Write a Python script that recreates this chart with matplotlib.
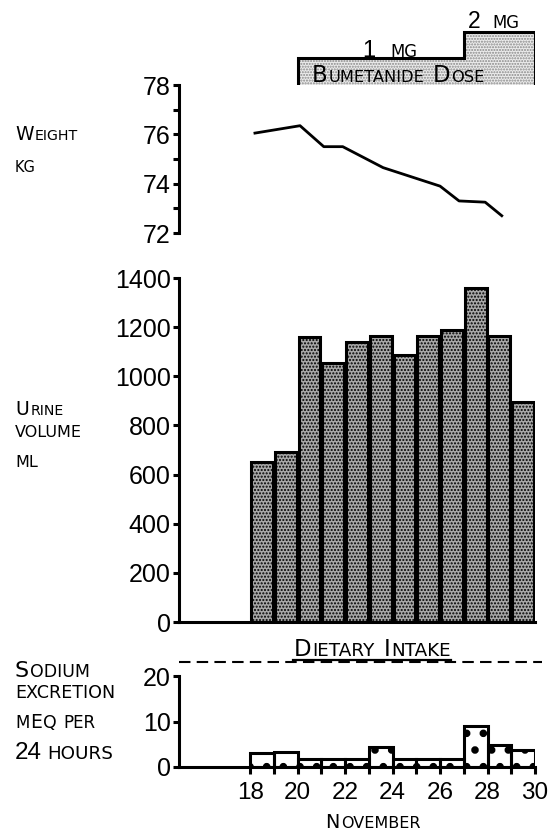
import matplotlib
matplotlib.use("Agg")
import matplotlib.pyplot as plt

# --- data ---
dose_edges = [20, 27, 30]          # bumetanide dose periods (November day)
dose_mg = [1, 2]

weight_day = [18.2, 20.1, 21.1, 21.9, 23.6, 26.0, 26.8, 27.9, 28.6]
weight_kg = [76.05, 76.35, 75.5, 75.5, 74.65, 73.9, 73.3, 73.25, 72.7]

days = [18, 19, 20, 21, 22, 23, 24, 25, 26, 27, 28, 29]
urine_ml = [650, 690, 1160, 1055, 1140, 1165, 1085, 1165, 1190, 1360, 1165, 895]
sodium_meq = [3.0, 3.2, 1.8, 1.8, 1.8, 4.5, 1.8, 1.8, 1.8, 9.1, 4.9, 3.8]
dietary_intake = 23

weight_ticks = [72, 74, 76, 78]
urine_ticks = [0, 200, 400, 600, 800, 1000, 1200, 1400]
sodium_ticks = [0, 10, 20]
day_ticks = [18, 20, 22, 24, 26, 28, 30]

SANS = ["DejaVu Sans"]
DIGITS = ["Liberation Sans", "DejaVu Sans"]
plt.rcParams["font.family"] = SANS

W, H = 558, 836
fig = plt.figure(figsize=(W / 100, H / 100), dpi=100)
LW = 2.2


def rect(top, bottom):
    return [179 / W, 1 - bottom / H, 356 / W, (bottom - top) / H]


ax_d = fig.add_axes(rect(25, 85))
ax_w = fig.add_axes(rect(85, 233))
ax_u = fig.add_axes(rect(278, 622))
ax_n = fig.add_axes(rect(676, 767))

for ax in (ax_d, ax_w, ax_u, ax_n):
    ax.set_xlim(15, 30)
    ax.patch.set_visible(False)
    for s in ("top", "right"):
        ax.spines[s].set_visible(False)
    for s in ("left", "bottom"):
        ax.spines[s].set_linewidth(LW)
    ax.tick_params(which="both", direction="out", length=4.5, width=LW,
                   pad=1.5, labelsize=18, labelfontfamily=DIGITS)

# dose box
ax_d.set_ylim(0, 2.26)
ax_d.axis("off")
ax_d.stairs(dose_mg, dose_edges, baseline=0, fill=True, facecolor="#ececec",
            edgecolor="#888888", lw=0, hatch="......")
ax_d.stairs(dose_mg, dose_edges, baseline=0, fill=True, facecolor="none",
            edgecolor="k", lw=LW)

# weight
ax_w.plot(weight_day, weight_kg, color="k", lw=2.0)
ax_w.set_ylim(72, 78)
ax_w.set_yticks(weight_ticks)
ax_w.set_yticks([73, 75, 77], minor=True)
ax_w.spines["bottom"].set_visible(False)
ax_w.set_xticks([])

# urine volume
ax_u.bar([d + 0.04 for d in days], urine_ml, width=0.92, align="edge",
         facecolor="#a8a8a8", edgecolor="k", lw=0, hatch=".....")
ax_u.bar([d + 0.04 for d in days], urine_ml, width=0.92, align="edge",
         facecolor="none", edgecolor="k", lw=LW)
ax_u.set_ylim(0, 1400)
ax_u.set_yticks(urine_ticks)
ax_u.set_xticks([])

# sodium excretion
with plt.rc_context({"hatch.linewidth": 3.0}):
    ax_n.bar(days, sodium_meq, width=1.0, align="edge", facecolor="white",
             edgecolor="k", lw=0, hatch=".")
ax_n.bar(days, sodium_meq, width=1.0, align="edge", facecolor="none",
         edgecolor="k", lw=LW)
ax_n.set_ylim(0, 20)
ax_n.set_yticks(sodium_ticks)
ax_n.set_xticks(day_ticks)
ax_n.set_xticks([19, 21, 23, 25, 27, 29], minor=True)
ax_n.tick_params(axis="x", which="both", length=5, pad=6, labelsize=17.5)
ax_n.plot([15, 30.3], [dietary_intake, dietary_intake], color="k", lw=1.5,
          ls=(0, (5.5, 3)), clip_on=False)

# --- small-caps style labels ---
renderer = fig.canvas.get_renderer()


def caps(x, y, parts, ha="left"):
    arts, widths = [], []
    for s, size, fam, gap in parts:
        t = fig.text(0, 1 - y / H, s, fontsize=size, family=fam,
                     va="baseline", ha="left")
        arts.append(t)
        widths.append(gap + t.get_window_extent(renderer).width)
    total = sum(widths)
    cx = x - total / 2 if ha == "center" else x
    start = cx
    for t, w, p in zip(arts, widths, parts):
        cx += p[3]
        t.set_x(cx / W)
        cx += w - p[3]
    return start, start + total


caps(15, 140, [("W", 13.5, SANS, 0), ("EIGHT", 10.2, SANS, 1.5)])
caps(15, 172, [("KG", 10.5, SANS, 0)])
caps(15, 415, [("U", 13.5, SANS, 0), ("RINE", 10.2, SANS, 1.5)])
caps(15, 437, [("VOLUME", 11.5, SANS, 0)])
caps(15, 467, [("ML", 11.5, SANS, 0)])
caps(15, 677, [("S", 16, SANS, 0), ("ODIUM", 12.5, SANS, 1)])
caps(15, 698, [("EXCRETION", 12.6, SANS, 0)])
caps(15, 728, [("M", 12, SANS, 0), ("E", 13.5, SANS, 1), ("Q", 12.5, SANS, 1),
               ("PER", 12, SANS, 6)])
caps(15, 759, [("24", 17.5, DIGITS, 0), ("HOURS", 13.2, SANS, 5)])
caps(373, 828, [("N", 13.8, SANS, 0), ("OVEMBER", 11.5, SANS, 1)], ha="center")

x0, x1 = caps(372, 656, [("D", 16.5, SANS, 0), ("IETARY", 13.2, SANS, 1),
                         ("I", 16.5, SANS, 9), ("NTAKE", 13.2, SANS, 1)],
              ha="center")
fig.add_artist(plt.Line2D([x0 / W, x1 / W], [1 - 660 / H] * 2, color="k",
                          lw=1.6))

caps(312, 81.5, [("B", 16.5, SANS, 0), ("UMETANIDE", 11.7, SANS, 1),
                 ("D", 16.5, SANS, 8), ("OSE", 11.7, SANS, 1)])
caps(362, 57, [("1", 17, DIGITS, 0), ("MG", 11.9, SANS, 15)])
caps(468, 28, [("2", 16.5, DIGITS, 0), ("MG", 11.9, SANS, 12)])

fig.savefig("out.png", dpi=100)
